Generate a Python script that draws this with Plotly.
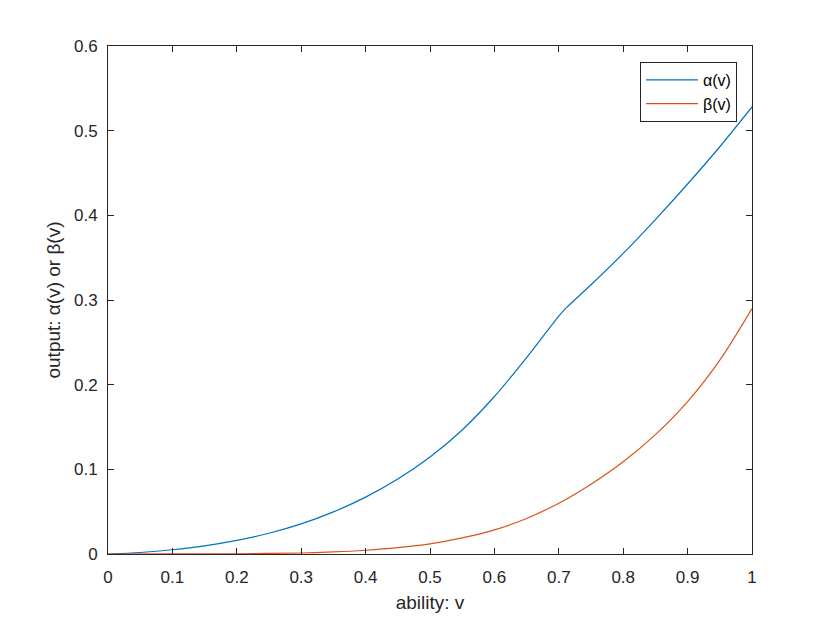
import plotly.graph_objects as go

# alpha(v); it has a kink near v = 0.712
v_alpha = [0.0, 0.05, 0.1, 0.15, 0.2, 0.25, 0.3, 0.35, 0.4, 0.45, 0.5, 0.55, 0.6, 0.65, 0.7, 0.712,
           0.75, 0.8, 0.85, 0.9, 0.95, 1.0]
alpha = [0.0, 0.0018, 0.0050, 0.0096, 0.0160, 0.0245, 0.0355, 0.0497, 0.0672, 0.0885, 0.1145, 0.1465,
         0.1860, 0.2320, 0.2810, 0.2912, 0.3180, 0.3550, 0.3950, 0.4370, 0.4810, 0.5280]
alpha_kink = 0.712

v_beta = [0.0, 0.1, 0.2, 0.3, 0.35, 0.4, 0.45, 0.5, 0.55, 0.6, 0.65, 0.7, 0.75, 0.8, 0.85, 0.9, 0.95, 1.0]
beta = [0.0, 0.0001, 0.0003, 0.0012, 0.0024, 0.0044, 0.0075, 0.0120, 0.0190, 0.0285, 0.0420, 0.0600,
        0.0825, 0.1090, 0.1410, 0.1800, 0.2290, 0.2900]

x_ticks = [0, 0.1, 0.2, 0.3, 0.4, 0.5, 0.6, 0.7, 0.8, 0.9, 1]
x_tick_text = ["0", "0.1", "0.2", "0.3", "0.4", "0.5", "0.6", "0.7", "0.8", "0.9", "1"]
y_ticks = [0, 0.1, 0.2, 0.3, 0.4, 0.5, 0.6]
y_tick_text = ["0", "0.1", "0.2", "0.3", "0.4", "0.5", "0.6"]

axc = "#262626"
font = "Liberation Sans, Arial, Helvetica, sans-serif"
blue = "#0072BD"
orange = "#D95319"

# split alpha at the kink so the smoothing does not round it
a1_v = [v for v in v_alpha if v <= alpha_kink]
a1 = [a for v, a in zip(v_alpha, alpha) if v <= alpha_kink]
a2_v = [v for v in v_alpha if v >= alpha_kink]
a2 = [a for v, a in zip(v_alpha, alpha) if v >= alpha_kink]

fig = go.Figure()
fig.add_trace(go.Scatter(x=a1_v, y=a1, mode="lines", name="α(v)", legendgroup="a",
                         line=dict(color=blue, width=1.2, shape="spline", smoothing=0.8)))
fig.add_trace(go.Scatter(x=a2_v, y=a2, mode="lines", name="α(v)", legendgroup="a", showlegend=False,
                         line=dict(color=blue, width=1.2, shape="spline", smoothing=0.8)))
fig.add_trace(go.Scatter(x=v_beta, y=beta, mode="lines", name="β(v)",
                         line=dict(color=orange, width=1.2, shape="spline", smoothing=0.8)))

axis_common = dict(showline=True, linecolor=axc, linewidth=1, mirror="ticks",
                   ticks="inside", ticklen=6, tickcolor=axc, tickwidth=1,
                   showgrid=False, zeroline=False,
                   tickfont=dict(family=font, size=17, color=axc))

fig.update_layout(
    width=830, height=623,
    margin=dict(l=100, r=86, t=38, b=77),
    paper_bgcolor="white", plot_bgcolor="white",
    font=dict(family=font, color=axc),
    xaxis=dict(range=[0, 1], tickvals=x_ticks, ticktext=x_tick_text, ticklabelstandoff=8,
               title=dict(text="ability: v", font=dict(family=font, size=19, color=axc), standoff=9),
               **axis_common),
    yaxis=dict(range=[0, 0.6], tickvals=y_ticks, ticktext=y_tick_text, ticklabelstandoff=6,
               title=dict(text="output: α(v) or β(v)", font=dict(family=font, size=19, color=axc), standoff=8),
               **axis_common),
    legend=dict(x=0.9767, xanchor="right", y=0.9685, yanchor="top",
                bgcolor="white", bordercolor=axc, borderwidth=1,
                font=dict(family=font, size=16, color="black"),
                tracegroupgap=0, itemwidth=52),
    showlegend=True,
)

fig.write_html("out.html")
